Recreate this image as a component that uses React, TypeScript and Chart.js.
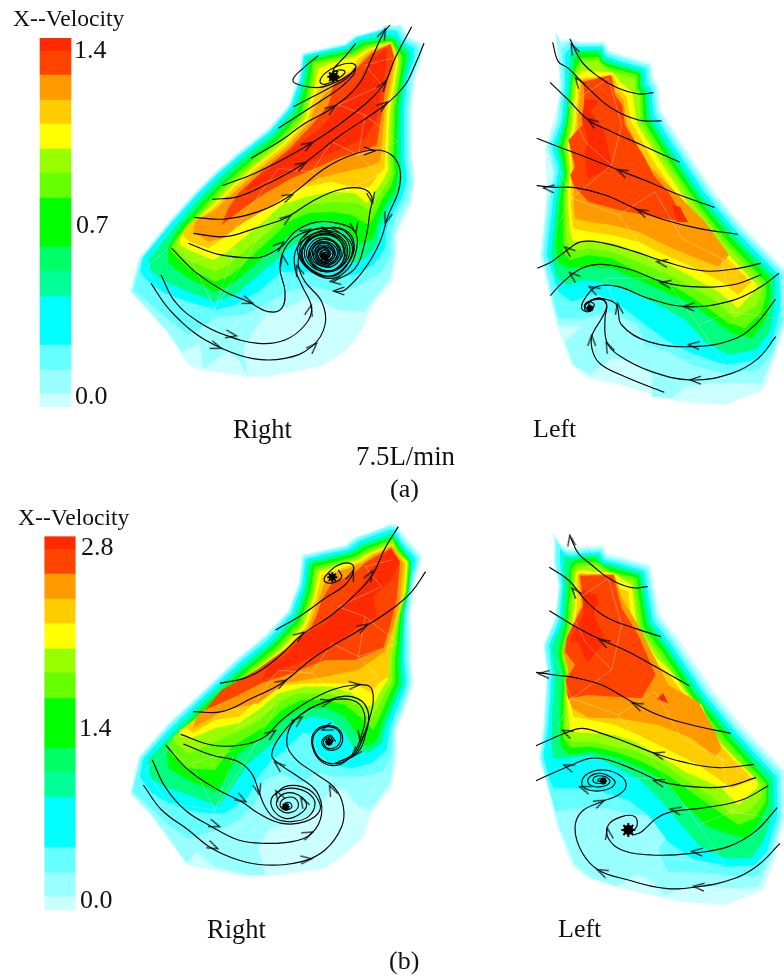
import React, { useEffect, useRef } from "react";
import { Chart, registerables } from "chart.js";

Chart.register(...registerables);

type P = number[];

// ---------- colour scale ----------
const scaleColors = ["#ff2a00","#ff4400","#ff9900","#ffcc00","#ffff00","#99ff00","#66ff00","#00ff00","#00ff66","#00ff99","#00ffff","#66ffff","#99ffff","#ccffff"];
const barEdgesA = [38.3,51,75,100,124,149,173,198,247,271,296,345,370,394,406.7];
const barEdgesB = [536.7,549.3,574,599,623.7,649,673,698.7,748.3,772.7,797.7,847.7,873,897,910];

// ---------- labels: text, left, baseline, size ----------
const labels: [string, number, number, number][] = [
  ["X--Velocity",13,27,23.6],["1.4",74,59,26],["0.7",76,234,26],["0.0",75,405,26],
  ["Right",233,438,26.5],["Left",533,438,26],["7.5L/min",356,465,26.8],["(a)",390,498,26],
  ["X--Velocity",18,526,23.6],["2.8",81,556,26],["1.4",79,737,26],["0.0",80,909,26],
  ["Right",207,938,26.5],["Left",558,938,26],["(b)",389,970,26],
];

// ---------- panel A: right, 7.5 L/min ----------
const aCC: P[] = [[780,30],[830,30],[850,65],[890,85],[895,115],[870,190],[860,280],[860,420],[870,500],[860,560],[835,610],[815,660],[815,720],[800,800],[740,870],[715,940],[670,1000],[600,1050],[430,1085],[370,1085],[230,1065],[190,1050],[125,950],[80,900],[15,830],[40,730],[130,620],[210,530],[270,470],[340,410],[430,340],[490,270],[500,240],[520,190],[530,115],[590,100],[660,85],[690,60],[770,50]];
const a99: P[] = [[775,33],[828,33],[847,68],[886,88],[890,115],[866,190],[856,280],[856,420],[864,500],[854,560],[828,610],[808,660],[808,720],[795,790],[740,860],[715,890],[640,885],[590,860],[540,850],[480,880],[420,900],[385,950],[355,1000],[368,1083],[345,1040],[310,1010],[275,1030],[235,1062],[225,985],[170,1010],[128,950],[84,900],[20,830],[44,732],[133,622],[212,533],[272,473],[342,413],[432,343],[492,273],[503,242],[522,192],[533,117],[592,103],[662,88],[692,63],[772,45]];
const a66: P[] = [[778,40],[820,40],[838,72],[878,95],[878,120],[856,190],[848,280],[848,420],[855,500],[842,555],[815,600],[798,650],[798,720],[770,770],[700,810],[650,835],[570,815],[500,825],[440,855],[360,900],[280,905],[190,960],[130,915],[70,860],[25,825],[50,733],[134,626],[213,537],[275,475],[343,417],[433,347],[494,276],[506,242],[525,191],[535,120],[593,106],[663,90],[693,66]];
const a00: P[] = [[780,45],[815,48],[830,78],[868,100],[868,125],[848,190],[838,280],[838,420],[845,495],[832,545],[805,590],[785,640],[780,700],[745,750],[690,780],[620,790],[540,770],[470,770],[400,830],[330,870],[270,885],[190,860],[110,830],[70,800],[45,770],[55,725],[135,630],[215,540],[278,478],[345,420],[435,350],[497,278],[510,240],[528,190],[537,122],[595,108],[665,92],[695,68]];
const aG1: P[] = [[785,60],[810,62],[825,85],[855,108],[855,130],[840,195],[828,280],[828,420],[832,490],[822,535],[790,580],[765,640],[755,690],[715,735],[670,745],[650,700],[620,680],[560,670],[505,690],[460,730],[400,780],[330,840],[270,860],[190,830],[120,800],[80,770],[70,735],[145,640],[222,550],[285,487],[352,428],[442,358],[505,285],[520,245],[536,195],[545,128],[600,115],[670,100],[705,75]];
const aG2: P[] = [[790,72],[806,72],[818,92],[842,116],[842,136],[830,200],[818,280],[815,420],[820,480],[810,525],[780,570],[755,630],[745,670],[700,690],[665,640],[610,620],[545,630],[495,660],[445,700],[395,745],[325,805],[270,832],[190,790],[130,745],[128,700],[155,650],[232,560],[295,497],[362,438],[450,368],[515,295],[530,250],[545,200],[555,135],[605,122],[675,108],[712,85]];
const aLime: P[] = [[793,78],[802,78],[812,98],[832,122],[832,140],[822,205],[810,280],[805,420],[810,475],[798,515],[770,555],[745,610],[730,630],[680,600],[620,590],[550,595],[490,620],[440,670],[390,715],[320,780],[270,800],[190,760],[140,710],[140,690],[165,655],[240,567],[303,503],[370,445],[458,374],[525,300],[540,255],[553,207],[563,142],[610,130],[680,115],[720,90]];
const aYG: P[] = [[795,80],[800,80],[808,102],[825,128],[825,145],[815,210],[803,280],[797,420],[800,470],[788,505],[760,545],[735,590],[700,565],[625,560],[550,570],[480,600],[430,650],[375,695],[310,750],[270,770],[190,735],[150,700],[150,680],[175,650],[248,572],[310,510],[378,450],[465,380],[532,305],[547,260],[560,212],[570,148],[615,135],[685,120],[725,95]];
const aY: P[] = [[797,82],[803,95],[820,130],[818,150],[808,215],[795,285],[788,420],[790,465],[775,495],[750,530],[725,565],[690,535],[620,530],[545,545],[470,570],[415,620],[360,665],[300,715],[265,735],[190,705],[165,690],[165,670],[185,640],[255,577],[318,515],[385,455],[473,385],[540,310],[553,265],[568,217],[580,160],[620,145],[690,125],[730,100]];
const aFC: P[] = [[798,84],[815,130],[812,155],[800,220],[785,290],[780,420],[778,460],[760,480],[735,515],[700,520],[620,500],[540,515],[465,545],[400,590],[345,630],[280,680],[250,700],[195,680],[175,665],[175,650],[195,625],[262,582],[325,520],[392,460],[480,390],[548,315],[560,270],[578,225],[600,205],[680,165],[700,130],[735,105]];
const aF9: P[] = [[797,86],[808,130],[805,160],[792,225],[778,295],[770,400],[765,440],[730,455],[660,470],[580,490],[500,530],[430,580],[360,620],[290,670],[250,680],[205,650],[210,620],[270,585],[332,527],[400,465],[487,395],[555,320],[570,275],[600,235],[680,180],[715,130],[740,110]];
const aF4: P[] = [[797,88],[806,125],[795,170],[780,230],[770,300],[755,390],[720,405],[650,425],[570,460],[500,490],[420,535],[355,580],[290,630],[310,580],[340,535],[410,470],[495,400],[560,330],[610,270],[625,210],[700,155],[740,115]];
const aF2: P[] = [[785,100],[785,150],[770,220],[760,290],[745,330],[720,370],[640,405],[560,440],[490,470],[420,500],[360,530],[380,500],[430,465],[510,395],[580,345],[620,300],[660,250],[700,200],[740,130]];
const aMesh: P[][] = [
  [[270,880],[200,740],[330,700],[270,880],[370,720],[460,560],[330,640],[460,460],[560,470],[620,380],[700,420],[720,300],[640,270],[770,210],[720,150],[800,130]],
  [[270,880],[130,860],[60,760],[130,700],[200,740]],
  [[270,880],[240,1000],[400,880],[480,1000],[600,900],[700,900],[760,800]],
  [[560,470],[640,540],[760,480],[700,420],[820,380],[720,300]],
];
const aStreams: P[][] = [
  [[580,122],[540,155],[505,190],[510,205],[575,218],[625,205],[675,178],[693,155],[680,145],[640,152],[600,175],[585,200],[600,208],[640,190],[660,170],[640,165],[615,180],[620,195],[640,180]],
  [[692,85],[668,115],[645,140],[625,165],[640,170]],
  [[505,275],[560,247],[620,215],[665,190],[690,160]],
  [[460,340],[530,295],[600,250],[650,215],[685,180],[692,160]],
  [[378,430],[470,375],[540,325],[620,280],[700,210],[740,130],[775,55],[795,30]],
  [[292,512],[400,470],[550,390],[680,300],[775,210],[810,130],[860,35]],
  [[262,553],[340,545],[430,505],[530,450],[640,365],[780,270],[840,210],[870,150],[897,85]],
  [[207,607],[300,612],[400,590],[490,545],[600,460],[680,420],[750,405],[800,420],[825,465],[820,530],[790,600],[765,680],[720,760],[660,825],[630,830]],
  [[205,655],[300,665],[390,640],[480,610],[560,560],[640,525],[710,520],[740,545],[735,590],[720,680],[690,760],[625,800]],
  [[190,685],[280,718],[400,728],[445,710],[475,690],[510,650],[570,622],[640,625],[690,650],[695,700],[670,760],[620,790],[560,770],[520,720],[530,670],[580,640],[640,650],[675,700],[650,755],[600,770],[550,745],[540,700],[570,665],[620,660],[655,700],[635,745],[595,755],[560,730],[565,695],[595,680],[630,695],[635,725],[610,745],[580,735],[575,710],[595,695],[620,705],[622,725],[605,735],[588,725],[590,710],[605,705],[612,720],[602,727],[595,720],[600,715]],
  [[140,700],[210,770],[300,830],[370,860],[430,890],[470,880],[480,830],[465,760],[480,700],[520,660],[590,640],[660,645],[688,690],[668,745],[612,785],[548,758],[524,705],[548,665],[600,650],[650,668],[668,712],[640,760],[590,765],[548,730],[553,690],[590,668],[635,685],[648,722],[620,755],[580,745],[562,712],[582,685],[618,692],[630,722],[605,742],[580,728],[580,705],[605,700],[615,720],[600,732],[590,720],[600,712]],
  [[108,780],[150,860],[220,920],[300,960],[400,985],[480,975],[540,930],[560,880],[530,810],[510,760],[515,700],[560,660],[620,648],[672,675],[680,720],[640,775],[580,778],[535,735],[545,680],[595,660],[645,678],[658,725],[625,765],[575,755],[553,715],[575,680],[620,678],[640,712],[615,748],[578,738],[572,705],[600,690],[625,708],[612,735],[590,730],[585,712],[602,705],[610,720]],
  [[78,805],[130,880],[210,955],[290,1000],[380,1030],[480,1030],[560,995],[600,930],[590,860],[540,800],[520,750],[530,700],[570,655],[640,640],[682,680],[675,735],[630,782],[570,770],[530,725],[555,672],[610,655],[660,690],[650,745],[600,770],[555,740],[558,695],[600,672],[642,698],[632,740],[590,752],[565,720],[590,685],[625,698],[625,730],[595,740],[578,715],[598,698],[618,715],[600,730],[592,715],[606,712]],
];
const aArrows: P[] = [[775,55,-65],[775,210,-55],[775,270,-38],[620,280,-35],[550,390,-30],[530,450,-30],[490,545,-25],[485,610,-35],[465,690,-40],[735,408,0],[740,550,80],[785,610,110],[640,828,180],[630,798,175],[370,860,20],[320,960,10],[275,995,20],[555,885,-75],[565,995,-45],[475,735,-100],[520,765,-110],[690,640,80],[605,650,10],[545,650,-30]];
const aBlobs: P[] = [[625,185,4],[600,725,3]];

// ---------- panel B: right, second flow rate ----------
const bCC: P[] = [[790,12],[815,12],[845,55],[890,105],[890,120],[870,190],[858,280],[858,420],[865,490],[850,540],[815,630],[815,720],[800,800],[740,875],[715,950],[650,1010],[600,1045],[430,1070],[370,1070],[230,1045],[185,1035],[125,950],[80,890],[15,820],[40,710],[130,610],[215,530],[330,420],[420,345],[490,270],[500,240],[520,190],[530,105],[590,90],[660,75],[690,50],[770,30]];
const b99: P[] = [[793,16],[812,17],[840,60],[884,108],[884,122],[864,190],[852,280],[852,420],[859,490],[844,540],[808,630],[808,720],[795,790],[735,870],[700,860],[660,810],[620,800],[580,870],[520,900],[430,930],[400,985],[420,1065],[370,1065],[270,1040],[215,995],[185,1030],[128,948],[84,888],[20,820],[44,712],[133,612],[218,532],[333,422],[423,348],[493,273],[503,242],[524,192],[534,108],[593,94],[663,79],[693,54]];
const b66: P[] = [[795,20],[810,23],[835,65],[878,110],[878,125],[858,190],[846,280],[846,420],[852,490],[838,535],[802,625],[800,700],[775,755],[700,770],[640,770],[570,760],[530,790],[470,760],[420,780],[390,850],[340,900],[280,930],[190,955],[125,910],[75,860],[22,815],[48,714],[135,616],[220,535],[336,425],[426,351],[495,276],[506,243],[526,193],[537,112],[596,97],[665,82],[696,57]];
const b00: P[] = [[798,28],[808,30],[830,70],[870,115],[870,130],[850,190],[838,280],[838,420],[844,490],[830,530],[795,620],[785,690],[740,730],[680,745],[620,735],[575,700],[560,640],[530,640],[480,690],[440,720],[400,770],[370,830],[300,880],[250,880],[190,870],[130,850],[75,815],[45,770],[55,715],[140,622],[225,540],[342,430],[432,357],[500,282],[512,247],[532,197],[542,118],[600,103],[670,88],[702,63]];
const bG1: P[] = [[802,40],[830,78],[860,120],[855,200],[838,280],[830,420],[834,490],[820,525],[785,610],[770,670],[730,700],[690,690],[660,640],[620,600],[560,590],[510,610],[465,650],[420,690],[370,730],[330,790],[280,860],[190,825],[120,800],[75,775],[70,720],[150,630],[232,548],[350,438],[440,365],[508,290],[522,252],[540,202],[550,125],[605,112],[675,95],[710,72]];
const bG2: P[] = [[803,50],[825,85],[857,125],[850,205],[830,280],[820,420],[822,490],[808,520],[775,600],[755,660],[725,680],[700,650],[660,590],[610,565],[540,565],[490,590],[440,635],[390,670],[340,700],[300,780],[270,815],[190,780],[130,745],[125,695],[160,640],[240,555],[358,446],[448,372],[516,298],[532,258],[548,208],[560,132],[612,120],[682,102],[720,80]];
const bLime: P[] = [[803,58],[820,90],[853,125],[846,208],[825,285],[810,420],[810,490],[798,512],[765,590],[745,630],[705,590],[660,555],[600,540],[530,540],[470,570],[420,620],[370,650],[320,680],[270,750],[190,745],[135,700],[130,670],[170,630],[248,562],[366,453],[455,379],[524,305],[540,264],[556,214],[568,140],[618,128],[688,110],[726,86]];
const bYG: P[] = [[803,65],[815,95],[850,125],[843,212],[820,290],[800,420],[800,485],[785,510],[755,570],[735,600],[700,555],[650,530],[590,520],[520,520],[460,545],[405,600],[350,630],[300,650],[240,680],[190,700],[145,665],[145,650],[182,620],[255,567],[372,458],[462,385],[530,310],[546,268],[562,220],[575,148],[622,135],[692,115],[730,92]];
const bY: P[] = [[803,72],[812,100],[847,125],[840,215],[815,295],[790,420],[788,480],[772,505],[745,555],[720,560],[680,520],[620,500],[540,500],[460,520],[400,570],[340,610],[270,625],[200,655],[165,650],[165,630],[195,612],[262,572],[378,463],[468,390],[536,315],[552,272],[568,225],[582,155],[628,142],[698,120],[735,98]];
const bFC: P[] = [[800,75],[843,130],[835,225],[815,310],[795,400],[790,470],[760,490],[740,520],[690,490],[590,490],[530,490],[460,500],[400,540],[340,590],[270,600],[205,640],[180,620],[200,605],[268,576],[384,468],[474,396],[542,320],[558,278],[574,230],[590,165],[635,150],[705,125],[740,102]];
const bF9: P[] = [[800,78],[835,130],[825,240],[805,320],[780,395],[700,450],[600,470],[480,490],[400,550],[300,570],[205,625],[215,590],[280,530],[390,470],[480,402],[548,325],[565,283],[580,240],[600,185],[640,155],[710,130],[745,106]];
const bF4: P[] = [[800,85],[825,130],[815,240],[795,320],[775,385],[690,420],[600,420],[500,460],[410,490],[330,530],[240,570],[290,510],[395,450],[485,385],[555,330],[575,285],[590,240],[620,190],[680,165],[720,130],[750,110]];
const bF2: P[] = [[795,85],[825,125],[800,180],[745,230],[755,290],[700,320],[640,370],[540,420],[470,450],[410,480],[430,440],[490,400],[540,340],[600,310],[650,260],[710,195],[745,140]];
const bMesh: P[][] = [
  [[270,870],[200,730],[330,690],[270,870],[370,710],[460,550],[330,630],[460,450],[560,460],[620,370],[700,410],[720,290],[640,260],[770,200],[720,140],[800,120]],
  [[270,870],[130,850],[60,750],[130,690],[200,730]],
  [[270,870],[240,990],[400,870],[480,990],[600,890],[700,890],[760,790]],
  [[560,460],[640,530],[760,470],[700,410],[820,370],[720,290]],
];
const bStreams: P[][] = [
  [[452,330],[530,285],[600,235],[660,195],[685,155],[680,132],[640,135],[600,170],[600,185],[625,188],[650,170],[640,150]],
  [[285,490],[370,470],[450,420],[530,345],[620,285],[700,215],[745,160],[780,85],[820,20]],
  [[205,575],[290,575],[380,535],[470,490],[570,410],[720,320],[810,260],[860,215],[902,155]],
  [[167,643],[260,675],[350,675],[420,650],[470,600],[540,550],[620,510],[690,495],[735,500],[745,540],[735,590],[715,650],[690,700],[640,730],[590,720],[565,680],[570,640],[610,620],[645,640],[640,675],[610,685],[595,665],[615,650],[625,665]],
  [[175,672],[260,705],[340,725],[380,760],[400,810],[420,860],[450,895],[500,905],[550,890],[570,850],[550,820],[510,805],[470,810],[440,835],[445,870],[480,895],[520,885],[545,855],[520,825],[480,820],[455,845],[465,870],[495,878],[520,860],[510,835],[480,835],[465,855],[480,870],[500,862],[495,848],[480,850],[482,860]],
  [[122,675],[190,750],[280,810],[350,845],[400,880],[470,910],[540,905],[585,870],[570,825],[530,800],[480,800],[450,825]],
  [[82,720],[120,800],[180,870],[260,920],[340,960],[420,970],[500,965],[560,940],[590,880],[575,815],[520,770],[460,730],[440,705],[465,650],[520,590],[600,545],[680,530],[728,570],[720,650],[695,700],[640,725]],
  [[55,795],[110,870],[190,930],[260,985],[340,1020],[420,1035],[530,1025],[600,990],[650,920],[655,860],[630,805],[570,760],[510,715],[485,665],[510,600],[590,550],[680,540],[718,580],[708,650],[680,705],[630,730]],
  [[690,700],[640,735],[590,725],[562,680],[568,636],[612,616],[650,640],[645,680],[610,690],[590,665],[615,645],[632,665]],
];
const bArrows: P[] = [[525,345,-35],[735,165,-60],[470,488,-30],[715,320,-30],[440,640,-35],[690,495,-5],[605,625,160],[350,838,30],[270,915,20],[265,980,25],[550,942,-25],[545,1018,-5],[460,735,-140],[620,810,-115],[520,600,-40],[605,545,-15],[708,650,100],[690,700,130],[400,810,75],[535,845,-120],[460,825,-120],[680,165,-70]];
const bBlobs: P[] = [[622,172,3],[482,860,2],[612,665,2]];

// ---------- panel C: left, 7.5 L/min ----------
const cCC: P[] = [[90,15],[105,45],[135,40],[165,50],[240,50],[250,75],[295,90],[380,115],[385,160],[400,180],[405,250],[460,340],[560,490],[650,600],[777,730],[777,900],[750,1000],[715,1095],[600,1140],[470,1130],[400,1115],[290,1080],[190,1060],[140,1020],[95,900],[70,800],[45,690],[60,560],[65,480],[60,370],[75,320],[100,230],[105,100]];
const c99: P[] = [[92,25],[108,55],[135,48],[165,55],[238,55],[247,80],[292,95],[375,120],[380,165],[395,185],[400,255],[455,345],[555,495],[645,605],[777,740],[777,895],[745,990],[710,1075],[640,1075],[560,1075],[480,1085],[440,1120],[380,1115],[380,1050],[330,1010],[260,1000],[195,1050],[145,1020],[120,950],[170,905],[100,900],[75,800],[50,690],[68,520],[85,440],[65,365],[95,290],[108,180]];
const c66: P[] = [[110,70],[135,55],[165,60],[235,60],[244,85],[288,100],[370,125],[375,170],[388,190],[393,260],[448,350],[548,500],[638,610],[770,745],[772,890],[740,985],[700,1035],[600,1045],[500,1020],[430,980],[360,960],[340,900],[260,860],[170,880],[100,880],[80,800],[55,690],[75,520],[90,440],[72,365],[100,290],[113,180]];
const c00: P[] = [[120,85],[140,65],[170,65],[232,65],[241,92],[282,108],[362,130],[365,175],[380,195],[385,265],[440,355],[540,505],[630,615],[762,750],[765,850],[740,960],[690,1005],[600,1020],[500,985],[430,950],[350,890],[270,830],[210,805],[140,830],[100,800],[65,690],[85,520],[100,440],[82,365],[110,290],[120,180]];
const cG1: P[] = [[135,90],[150,75],[175,75],[228,75],[238,100],[275,115],[352,137],[355,180],[370,200],[375,272],[430,362],[530,512],[620,622],[750,755],[750,830],[735,920],[690,975],[610,990],[540,950],[480,885],[420,850],[350,815],[270,780],[180,765],[130,780],[95,760],[78,690],[95,520],[110,440],[95,365],[118,290],[130,180]];
const cG2: P[] = [[148,105],[160,85],[180,82],[222,85],[233,110],[268,122],[345,145],[345,185],[360,205],[365,280],[420,370],[520,520],[610,630],[735,760],[735,820],[725,880],[680,940],[620,925],[560,880],[495,835],[420,800],[340,765],[260,730],[180,725],[125,730],[100,710],[92,660],[105,520],[120,440],[105,365],[125,290],[138,180]];
const cLime: P[] = [[152,130],[170,100],[220,95],[230,120],[262,130],[338,150],[338,190],[352,210],[355,285],[412,378],[512,528],[600,638],[722,770],[722,815],[710,860],[660,910],[610,895],[550,850],[490,810],[420,770],[340,740],[260,700],[190,690],[135,705],[115,680],[115,520],[125,440],[115,365],[130,290],[140,180]];
const cYG: P[] = [[155,135],[172,110],[222,105],[255,140],[330,158],[330,195],[345,215],[345,290],[405,385],[505,535],[590,645],[710,775],[710,800],[690,845],[630,880],[560,820],[490,780],[420,745],[340,710],[260,680],[190,670],[140,680],[125,650],[120,520],[130,440],[122,365],[137,295],[145,180]];
const cY: P[] = [[160,150],[172,138],[262,142],[285,170],[322,200],[335,295],[395,392],[495,545],[580,655],[695,780],[695,790],[640,850],[580,800],[490,750],[420,715],[340,680],[260,655],[190,645],[145,650],[135,625],[128,520],[135,440],[128,365],[143,300],[150,200]];
const cFC: P[] = [[165,160],[265,150],[280,190],[305,215],[318,290],[380,400],[480,550],[570,665],[680,770],[640,810],[590,770],[490,720],[420,690],[340,650],[260,630],[190,620],[145,610],[135,520],[142,440],[135,365],[150,310],[158,200]];
const cF9: P[] = [[170,165],[262,155],[272,200],[295,225],[305,295],[360,410],[450,500],[540,590],[612,690],[580,725],[490,690],[420,660],[340,620],[260,600],[190,590],[150,580],[145,520],[148,440],[135,350],[155,320],[165,200]];
const cF4: P[] = [[175,170],[258,150],[270,210],[292,240],[300,300],[360,400],[385,450],[430,500],[460,550],[490,590],[440,585],[360,570],[280,555],[190,530],[145,480],[135,450],[150,425],[130,345],[172,300],[178,220]];
const cF2: P[] = [[180,222],[220,226],[195,262],[235,310],[262,425],[188,462],[178,390],[190,350],[170,280]];
const cF2b: P[] = [[440,540],[465,545],[488,592],[455,590]];
const cMesh: P[][] = [
  [[260,420],[180,350],[130,240],[250,160],[290,300],[260,420],[140,520],[280,570],[390,500],[470,640],[590,700],[620,860],[520,900],[420,760],[280,570]],
  [[520,900],[600,1020],[430,1000],[300,900],[200,950],[150,1000]],
  [[100,600],[140,520],[90,400]],
  [[590,700],[700,780],[620,860],[740,880]],
  [[300,900],[240,760],[420,760]],
];
const cStreams: P[][] = [
  [[385,203],[340,207],[280,190],[220,155],[170,110],[135,42]],
  [[410,288],[340,285],[260,250],[190,190],[130,130],[100,110],[83,52]],
  [[465,412],[350,360],[260,320],[190,285],[130,225],[75,172]],
  [[568,547],[450,505],[370,470],[280,435],[180,395],[100,365],[35,340]],
  [[638,628],[520,610],[420,585],[340,555],[240,510],[150,488],[90,487],[35,482]],
  [[707,715],[640,730],[540,738],[420,710],[330,680],[240,655],[170,650],[120,680],[80,710],[37,730]],
  [[707,750],[620,780],[500,785],[410,770],[320,735],[230,718],[170,730],[110,775],[76,812]],
  [[762,745],[700,790],[610,830],[480,845],[370,820],[280,785],[215,785],[180,820],[170,850],[190,860],[208,840],[190,830],[178,845],[195,852]],
  [[752,822],[690,900],[620,945],[500,965],[370,950],[290,900],[275,840],[250,825],[215,820],[185,835],[180,855],[195,850]],
  [[752,935],[700,1000],[620,1045],[500,1065],[380,1040],[280,990],[245,950],[240,880],[245,840],[225,820],[195,830],[190,850]],
  [[418,1102],[300,1055],[230,1020],[205,985],[200,935],[230,880],[245,845],[235,825],[205,825],[180,840]],
];
const cArrows: P[] = [[145,70,-115],[160,170,-125],[200,290,-145],[290,440,-155],[350,560,-155],[70,490,-175],[410,712,-170],[130,675,-140],[420,775,-170],[145,752,-140],[490,845,-178],[205,792,-150],[505,960,-175],[280,850,-100],[510,1065,-178],[250,965,-115],[200,945,-90]];
const cBlobs: P[] = [[195,850,1.5]];

// ---------- panel D: left, second flow rate ----------
const dCC: P[] = [[85,22],[105,55],[130,70],[165,65],[235,60],[245,85],[290,95],[375,120],[385,170],[405,270],[460,340],[560,490],[650,600],[777,735],[777,880],[750,1000],[715,1095],[600,1140],[470,1130],[400,1115],[290,1090],[190,1060],[140,1020],[95,900],[70,800],[42,700],[55,600],[60,520],[65,440],[55,360],[90,280],[100,180],[85,110]];
const d99: P[] = [[90,35],[108,65],[133,78],[168,72],[232,68],[242,92],[286,102],[370,126],[380,175],[398,275],[452,347],[552,497],[642,607],[772,742],[772,878],[742,995],[700,1085],[640,1090],[550,1085],[470,1090],[420,1110],[370,1060],[330,1050],[275,1085],[240,1070],[200,1060],[150,1020],[100,900],[75,800],[45,700],[58,600],[63,520],[68,440],[58,360],[92,283],[103,180],[90,110]];
const d66: P[] = [[95,48],[112,75],[136,85],[170,78],[228,75],[238,98],[282,108],[365,132],[374,180],[392,280],[445,352],[545,502],[635,612],[765,748],[767,876],[735,990],[695,1055],[600,1050],[500,1040],[430,1040],[400,980],[430,920],[400,870],[320,870],[250,850],[150,850],[92,860],[72,790],[48,700],[62,600],[67,520],[72,440],[62,360],[95,285],[106,180],[92,110]];
const d00: P[] = [[105,70],[118,85],[140,92],[175,85],[225,82],[235,105],[278,115],[358,138],[366,186],[384,286],[438,358],[538,508],[628,618],[755,755],[757,870],[725,980],[690,1020],[600,1025],[500,1000],[430,950],[370,870],[310,825],[230,800],[150,790],[85,790],[70,750],[55,690],[70,600],[75,520],[80,440],[72,360],[102,290],[112,180],[105,110]];
const dG1: P[] = [[115,95],[125,95],[145,100],[180,92],[220,90],[230,112],[272,122],[350,145],[358,192],[375,292],[430,365],[530,515],[620,625],[745,760],[745,860],[715,950],[680,1000],[600,1000],[520,960],[470,900],[410,830],[350,770],[280,730],[200,690],[130,700],[85,700],[78,650],[80,600],[85,520],[90,440],[80,365],[110,295],[118,180]];
const dG2: P[] = [[135,120],[150,105],[185,100],[215,100],[225,120],[265,130],[342,152],[348,198],[365,298],[420,372],[520,522],[610,632],[730,770],[730,840],[700,900],[660,940],[620,930],[550,905],[480,840],[420,770],[350,730],[280,700],[200,680],[130,690],[105,660],[105,600],[108,520],[112,440],[100,380],[120,300],[130,180]];
const dLime: P[] = [[140,130],[155,115],[215,110],[260,140],[335,158],[340,205],[355,305],[412,380],[512,530],[600,640],[722,775],[722,830],[690,880],[640,900],[610,880],[540,830],[470,780],[410,740],[340,705],[270,680],[200,665],[135,668],[115,640],[115,520],[120,440],[108,385],[125,310],[138,180]];
const dYG: P[] = [[145,140],[160,125],[215,120],[255,145],[325,165],[330,210],[345,312],[403,388],[503,538],[590,650],[710,780],[710,815],[670,860],[620,870],[560,815],[490,770],[420,720],[340,680],[270,665],[200,650],[140,650],[120,620],[120,520],[125,445],[113,390],[130,320],[145,200]];
const dY: P[] = [[150,145],[165,135],[268,145],[295,165],[320,180],[335,300],[395,400],[440,440],[490,510],[530,540],[580,650],[700,770],[695,790],[640,840],[590,790],[480,740],[400,690],[330,650],[270,630],[200,625],[135,620],[125,520],[130,445],[118,390],[135,330],[150,240]];
const dFC: P[] = [[155,155],[165,145],[265,150],[285,190],[310,200],[320,300],[385,410],[430,445],[480,515],[520,545],[575,650],[685,765],[620,790],[520,720],[420,670],[340,630],[270,600],[200,585],[145,575],[135,520],[140,450],[125,395],[140,345],[155,250]];
const dF9: P[] = [[160,148],[268,148],[288,215],[305,245],[340,300],[430,480],[520,530],[565,610],[590,670],[570,695],[500,640],[400,600],[280,580],[190,578],[142,550],[125,510],[122,465],[130,440],[115,380],[125,335],[170,240]];
const dF4: P[] = [[165,152],[265,150],[290,250],[340,330],[392,450],[350,520],[270,515],[190,510],[130,520],[122,465],[150,420],[120,380],[125,340],[175,240]];
const dF4b: P[] = [[395,522],[415,505],[430,535]];
const dF2: P[] = [[172,195],[215,208],[220,235],[205,260],[240,350],[185,415],[160,350],[135,345],[175,270]];
const dMesh: P[][] = [
  [[260,435],[180,350],[130,240],[250,160],[290,300],[260,435],[140,520],[280,570],[390,500],[470,640],[590,700],[620,860],[520,900],[420,760],[280,570]],
  [[520,900],[600,1020],[430,1000],[300,900],[200,950],[150,1000]],
  [[100,600],[140,520],[90,400]],
  [[590,700],[700,780],[620,860],[740,880]],
  [[300,900],[240,760],[420,760]],
];
const dStreams: P[][] = [
  [[368,185],[320,188],[260,165],[200,120],[160,85],[137,38]],
  [[408,335],[330,310],[250,280],[190,235],[130,165],[73,127]],
  [[493,482],[400,430],[310,380],[230,345],[160,310],[73,257]],
  [[617,625],[500,600],[400,570],[320,530],[230,480],[150,458],[90,450],[33,442]],
  [[687,718],[580,728],[470,710],[390,685],[300,650],[230,625],[170,610],[120,625],[33,662]],
  [[693,758],[600,785],[500,785],[410,770],[330,735],[250,705],[195,700],[140,720],[33,767]],
  [[730,782],[650,825],[540,848],[440,860],[395,880],[350,920],[325,930]],
  [[757,848],[690,920],[610,965],[500,985],[380,990],[290,975],[250,940],[250,900],[290,875],[330,875],[335,905],[310,925]],
  [[765,955],[700,1020],[630,1060],[520,1085],[420,1090],[310,1065],[220,1035],[170,980],[150,910],[170,860],[230,830],[280,810],[303,785],[290,755],[240,735],[190,745],[170,775],[190,795],[240,795],[270,775],[255,755],[220,745],[190,760],[195,780],[230,785],[255,770],[240,755],[210,755],[205,770],[230,775],[240,765],[225,760],[218,768],[235,768]],
];
const dArrows: P[] = [[137,45,-100],[150,200,-130],[235,350,-150],[335,540,-155],[55,447,-175],[400,688,-165],[125,622,-155],[400,770,-165],[130,725,-160],[450,855,-170],[515,980,-175],[250,925,-100],[520,1085,-175],[230,1040,-155],[225,832,-25],[178,790,-160]];
const dBlobs: P[] = [[310,915,5],[235,768,1.5]];

const levelColors = ["#ccffff","#99ffff","#66ffff","#00ffff","#00ff80","#00ff00","#66ff00","#99ff00","#ffff00","#ffcc00","#ff9900","#ff4400","#ff2a00","#ff2a00"];

const panels = [
  { ox: 125, oy: 15, levels: [aCC,a99,a66,a00,aG1,aG2,aLime,aYG,aY,aFC,aF9,aF4,aF2], mesh: aMesh, streams: aStreams, arrows: aArrows, blobs: aBlobs },
  { ox: 125, oy: 520, levels: [bCC,b99,b66,b00,bG1,bG2,bLime,bYG,bY,bFC,bF9,bF4,bF2], mesh: bMesh, streams: bStreams, arrows: bArrows, blobs: bBlobs },
  { ox: 525, oy: 25, levels: [cCC,c99,c66,c00,cG1,cG2,cLime,cYG,cY,cFC,cF9,cF4,cF2,cF2b], mesh: cMesh, streams: cStreams, arrows: cArrows, blobs: cBlobs },
  { ox: 525, oy: 525, levels: [dCC,d99,d66,d00,dG1,dG2,dLime,dYG,dY,dFC,dF9,dF4,dF2,dF4b], mesh: dMesh, streams: dStreams, arrows: dArrows, blobs: dBlobs },
];

function makeArrow(): HTMLCanvasElement {
  const c = document.createElement("canvas");
  c.width = 24; c.height = 24;
  const g = c.getContext("2d")!;
  g.strokeStyle = "#000"; g.lineWidth = 1.1;
  g.beginPath(); g.moveTo(6,8); g.lineTo(17,12); g.lineTo(6,16); g.stroke();
  return c;
}

export default function App() {
  const ref = useRef<HTMLCanvasElement>(null);
  useEffect(() => {
    document.body.style.margin = "0";
    const arrow = makeArrow();
    const paint: any[] = [];
    panels.forEach((p) => {
      const at = (q: P) => ({ x: p.ox + q[0] / 3, y: p.oy + q[1] / 3 });
      p.levels.forEach((poly, i) => paint.push({
        type: "line", data: poly.map(at), fill: "shape", backgroundColor: levelColors[i],
        borderWidth: 0, pointRadius: 0, tension: 0,
      }));
      p.mesh.forEach((m) => paint.push({
        type: "line", data: m.map(at), fill: false, borderColor: "rgba(255,255,255,0.3)",
        borderWidth: 1, pointRadius: 0, tension: 0,
      }));
    });
    [[barEdgesA, 55.5, 31], [barEdgesB, 60, 30.5]].forEach(([edges, x, w]: any) => paint.push({
      type: "bar", grouped: false, barThickness: w, backgroundColor: scaleColors, borderWidth: 0,
      data: scaleColors.map((_, i) => ({ x, y: [edges[i], edges[i + 1]] })),
    }));
    panels.forEach((p) => {
      const at = (q: P) => ({ x: p.ox + q[0] / 3, y: p.oy + q[1] / 3 });
      p.streams.forEach((s) => paint.push({
        type: "line", data: s.map(at), fill: false, borderColor: "#000", borderWidth: 1.15,
        pointRadius: 0, tension: 0.4,
      }));
      paint.push({
        type: "scatter", data: p.arrows.map(at), showLine: false, pointStyle: arrow,
        pointRadius: 6, pointRotation: p.arrows.map((a) => a[2]),
      });
      paint.push({
        type: "scatter", data: p.blobs.map(at), showLine: false, pointStyle: "star",
        pointBorderColor: "#000", pointBorderWidth: 2, pointRadius: p.blobs.map((b) => b[2] + 2),
      });
      paint.push({
        type: "scatter", data: p.blobs.map(at), showLine: false, pointStyle: "circle",
        pointBackgroundColor: "#000", pointBorderWidth: 0, pointRadius: p.blobs.map((b) => b[2]),
      });
    });
    const chart = new Chart(ref.current!, {
      type: "scatter",
      data: { datasets: paint.slice().reverse() },
      options: {
        responsive: false, animation: false, devicePixelRatio: 1,
        layout: { padding: 0, autoPadding: false },
        plugins: { legend: { display: false }, tooltip: { enabled: false } },
        events: [],
        scales: {
          x: { type: "linear", min: 0, max: 784, display: false, offset: false },
          y: { type: "linear", min: 0, max: 976, reverse: true, display: false },
        },
      },
    } as any);
    return () => chart.destroy();
  }, []);
  return (
    <div style={{ position: "absolute", left: 0, top: 0, width: 784, height: 976, overflow: "hidden", background: "#fff" }}>
      <canvas ref={ref} width={784} height={976} style={{ display: "block" }} />
      {labels.map(([t, x, b, s], i) => (
        <span key={i} style={{ position: "absolute", left: x, top: b - 0.8375 * s, fontFamily: "'Liberation Serif', serif", fontSize: s, lineHeight: `${s}px`, color: "#111", whiteSpace: "nowrap" }}>{t}</span>
      ))}
    </div>
  );
}
